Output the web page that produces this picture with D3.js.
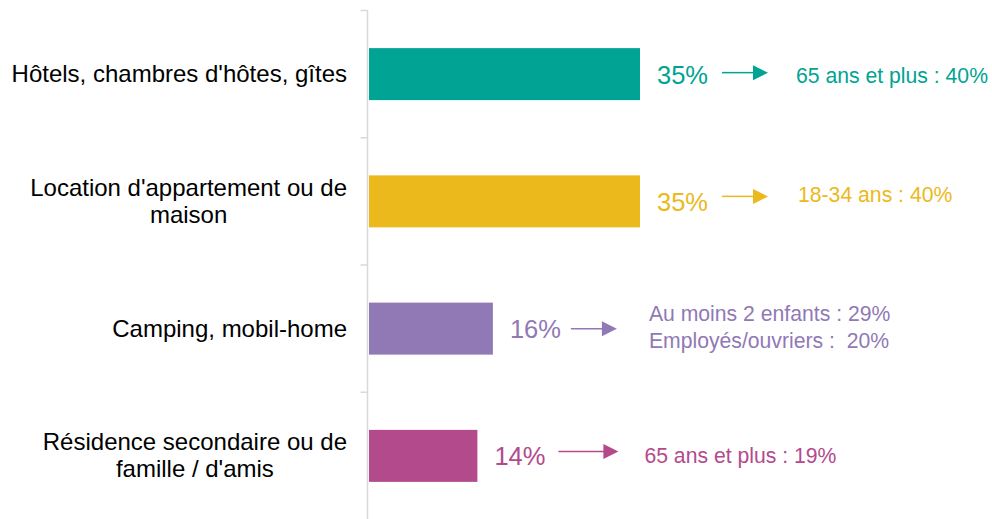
<!DOCTYPE html>
<html>
<head>
<meta charset="utf-8">
<script src="https://cdn.jsdelivr.net/npm/d3@7"></script>
<style>
  body { margin: 0; background: #fff; }
  text { font-family: "Liberation Sans", Arial, sans-serif; white-space: pre; }
</style>
</head>
<body>
<div id="chart"></div>
<script>
 //categories and values
 var categories = [
     ["Hôtels, chambres d'hôtes, gîtes"],
     ["Location d'appartement ou de", "maison"],
     ["Camping, mobil-home"],
     ["Résidence secondaire ou de", "famille / d'amis"]
 ];
 var values = [35, 35, 16, 14];
 var notes = [
     ["65 ans et plus : 40%"],
     ["18-34 ans : 40%"],
     ["Au moins 2 enfants : 29%", "Employés/ouvriers :  20%"],
     ["65 ans et plus : 19%"]
 ];
 var colors = ["#00a394", "#ebb91b", "#9179b5", "#b34a8c"];

 //annotation layout (arrow start offset, arrow length, arrow dy, gap to note, note baseline dy)
 var noteLayout = [
     { start: 82, len: 46, dy: -1.5, gap: 28, ty: 8.7 },
     { start: 82, len: 46, dy: -5, gap: 30, ty: 1 },
     { start: 78, len: 46, dy: 0, gap: 32, ty: -8 },
     { start: 81, len: 60, dy: -4.5, gap: 26, ty: 7 }
 ];

 var width = 992, height = 519;

 var svg = d3.select("#chart")
     .append("svg")
     .attr("width", width)
     .attr("height", height);

 var keys = categories.map(function (d) { return d.join(" "); });

 var xScale = d3.scaleLinear()
     .domain([0, 35])
     .range([369, 640]);

 var yScale = d3.scaleBand()
     .domain(keys)
     .range([10.5, 519.5])
     .padding(0);

 var barH = 52;

 //axis line + ticks at category boundaries
 var axisX = 367.5;
 svg.append("line")
     .attr("x1", axisX).attr("x2", axisX)
     .attr("y1", 10).attr("y2", 519)
     .attr("stroke", "#d9d9d9")
     .attr("stroke-width", 1.5);

 var tickYs = keys.map(function (k) { return yScale(k); });
 svg.selectAll(".tick")
     .data(tickYs)
     .enter()
     .append("line")
     .attr("x1", axisX - 7).attr("x2", axisX)
     .attr("y1", function (d) { return d; })
     .attr("y2", function (d) { return d; })
     .attr("stroke", "#d9d9d9")
     .attr("stroke-width", 1.5);

 //bars
 svg.selectAll(".bar")
     .data(values)
     .enter()
     .append("rect")
     .attr("class", "bar")
     .attr("x", xScale(0))
     .attr("y", function (d, i) { return yScale(keys[i]) + yScale.bandwidth() / 2 - barH / 2; })
     .attr("width", function (d) { return xScale(d) - xScale(0); })
     .attr("height", barH)
     .attr("fill", function (d, i) { return colors[i]; });

 //category labels, lines centered within a right-aligned block
 categories.forEach(function (lines, i) {
     var cy = yScale(keys[i]) + yScale.bandwidth() / 2;
     var g = svg.append("g");
     var txt = g.append("text")
         .attr("font-size", "24px")
         .attr("fill", "#000")
         .attr("text-anchor", "middle");
     txt.selectAll("tspan")
         .data(lines)
         .enter()
         .append("tspan")
         .attr("x", 0)
         .attr("y", function (d, j) { return cy + 8 + (j - (lines.length - 1) / 2) * 27; })
         .text(function (d) { return d; });
     var w = txt.node().getBBox().width;
     g.attr("transform", "translate(" + (347 - w / 2) + ",0)");
 });

 //value labels
 svg.selectAll(".val")
     .data(values)
     .enter()
     .append("text")
     .attr("class", "val")
     .attr("x", function (d) { return xScale(d) + 17; })
     .attr("y", function (d, i) { return yScale(keys[i]) + yScale.bandwidth() / 2 + 9.5; })
     .attr("font-size", "25.5px")
     .attr("fill", function (d, i) { return colors[i]; })
     .text(function (d) { return d + "%"; });

 //arrows and notes
 values.forEach(function (v, i) {
     var L = noteLayout[i];
     var cy = yScale(keys[i]) + yScale.bandwidth() / 2;
     var x0 = xScale(v) + L.start, x1 = x0 + L.len, ay = cy + L.dy;
     svg.append("line")
         .attr("x1", x0).attr("x2", x1 - 14)
         .attr("y1", ay).attr("y2", ay)
         .attr("stroke", colors[i])
         .attr("stroke-width", 1.5);
     svg.append("path")
         .attr("d", "M" + (x1 - 15) + "," + (ay - 7.5) + "L" + x1 + "," + ay + "L" + (x1 - 15) + "," + (ay + 7.5) + "Z")
         .attr("fill", colors[i]);
     svg.append("text")
         .attr("font-size", "21.2px")
         .attr("fill", colors[i])
         .selectAll("tspan")
         .data(notes[i])
         .enter()
         .append("tspan")
         .attr("x", x1 + L.gap)
         .attr("y", function (d, j) { return cy + L.ty + j * 27; })
         .text(function (d) { return d; });
 });
</script>
</body>
</html>
